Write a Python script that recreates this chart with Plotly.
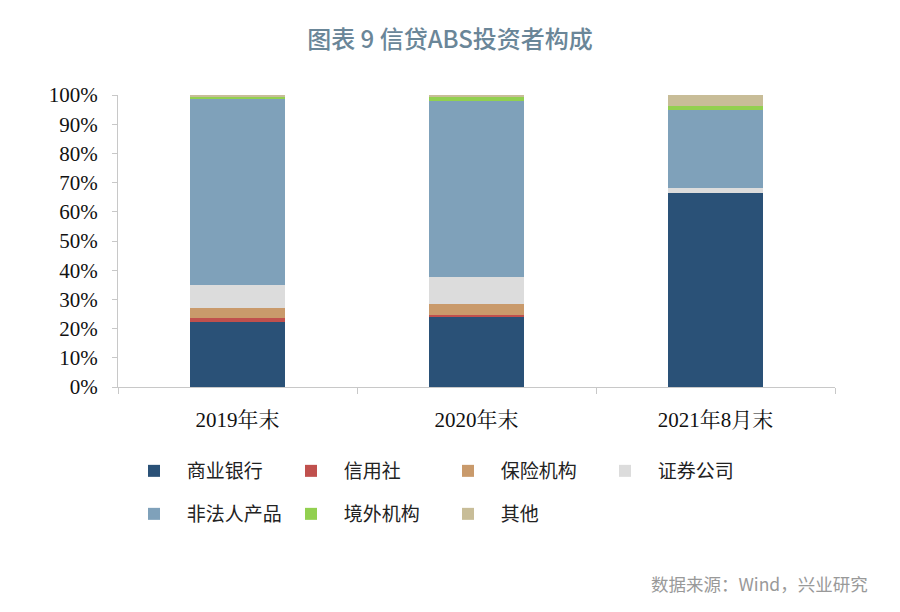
import plotly.graph_objects as go

categories = ["2019年末", "2020年末", "2021年8月末"]
series_names = ["商业银行", "信用社", "保险机构", "证券公司", "非法人产品", "境外机构", "其他"]
commercial_banks = [22.3, 24.3, 66.4]
credit_coops = [1.2, 0.4, 0.0]
insurance = [3.6, 3.8, 0.0]
securities = [8.0, 9.1, 1.8]
non_legal = [63.5, 60.5, 26.5]
overseas = [0.9, 1.2, 1.7]
others = [0.5, 0.7, 3.6]

series_values = [commercial_banks, credit_coops, insurance, securities, non_legal, overseas, others]
colors = ["#2a5177", "#c0504d", "#c99a6b", "#dcdcdc", "#7fa1ba", "#92d050", "#c8bd98"]

# the page adds an 8px body margin, so target positions are shifted by -8
PL, PR, PT, PB = 110, 827, 87, 379
PW, PH = PR - PL, PB - PT

fig = go.Figure()
for i, (name, vals, col) in enumerate(zip(series_names, series_values, colors)):
    fig.add_trace(go.Bar(
        x=categories, y=[v / 100 for v in vals], name="\u00a0\u00a0\u00a0" + name,
        marker=dict(color=col, line=dict(width=0)), width=0.4,
        legend="legend" if i < 4 else "legend2",
    ))

legend_common = dict(orientation="h", xanchor="left", yanchor="middle",
                     entrywidth=112, entrywidthmode="pixels", traceorder="normal",
                     font=dict(family="Noto Sans CJK SC", size=19, color="#222"),
                     itemwidth=30, bgcolor="rgba(0,0,0,0)")

fig.update_layout(
    barmode="stack",
    width=900, height=612,
    margin=dict(l=PL, r=900 - PR, t=PT, b=612 - PB, autoexpand=False),
    plot_bgcolor="white", paper_bgcolor="white",
    title=dict(text="图表 9 信贷ABS投资者构成", x=(450 - 8) / 900, xanchor="center",
               y=1 - 32 / 612, yanchor="middle",
               font=dict(family="Noto Sans CJK SC", size=24, weight=500, color="#6a8698")),
    legend=dict(x=16 / PW, y=(PB - 463) / PH, **legend_common),
    legend2=dict(x=16 / PW, y=(PB - 506) / PH, **legend_common),
    font=dict(family="Liberation Serif", size=18, color="#111"),
)
fig.update_yaxes(range=[0, 1], dtick=0.1, tickformat=".0%", showgrid=False,
                 showline=True, linecolor="#c8c8c8", ticks="outside", ticklen=5,
                 tickcolor="#c8c8c8", ticklabelstandoff=10,
                 tickfont=dict(family="Liberation Serif", size=21))
fig.update_xaxes(showline=True, linecolor="#c8c8c8", ticks="outside", ticklen=6,
                 tickcolor="#c8c8c8", tickson="boundaries", ticklabelstandoff=14,
                 tickfont=dict(family="Liberation Serif, Noto Serif CJK SC, Noto Sans CJK SC", size=21))

fig.add_annotation(text="数据来源：Wind，兴业研究", xref="paper", yref="paper",
                   x=(862 - PL) / PW, y=(PB - 575) / PH, xanchor="right", yanchor="middle",
                   showarrow=False,
                   font=dict(family="Noto Sans CJK SC", size=17.5, color="#999"))

fig.write_html("out.html")
